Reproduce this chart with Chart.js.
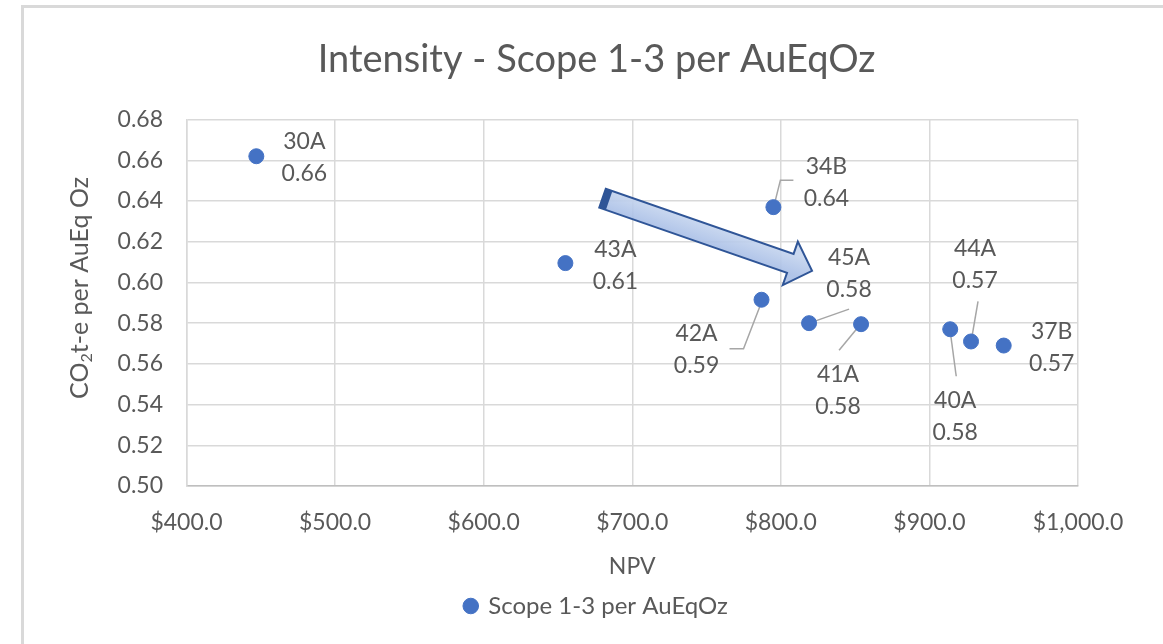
<!DOCTYPE html>
<html>
<head>
<meta charset="utf-8">
<script src="https://cdn.jsdelivr.net/npm/chart.js@4.4.1/dist/chart.umd.min.js"></script>
<style>
  html, body { margin: 0; padding: 0; background: #fff; }
  #wrap { position: relative; width: 1163px; height: 644px; overflow: hidden; }
  #frame { position: absolute; left: 21px; top: 5px; right: -5px; bottom: -5px;
           border-left: 3px solid #d9d9d9; border-top: 3px solid #d9d9d9; }
  #chart { position: absolute; left: 0; top: 0; }
</style>
</head>
<body>
<div id="wrap">
  <div id="frame"></div>
  <canvas id="chart" width="1163" height="644"></canvas>
</div>
<script>
// data
const projects  = ['30A', '43A', '34B', '42A', '45A', '41A', '40A', '44A', '37B'];
const npv       = [447, 655, 795, 787, 819, 854, 914, 928, 950];
const intensity = [0.662, 0.6095, 0.637, 0.5915, 0.580, 0.5795, 0.577, 0.571, 0.569];
const xTickValues = [400, 500, 600, 700, 800, 900, 1000];
const yTickValues = [0.50, 0.52, 0.54, 0.56, 0.58, 0.60, 0.62, 0.64, 0.66, 0.68];

// trend arrow, in data units (tail -> tip)
const trendArrow = { from: [680, 0.6414], to: [821, 0.6057] };

// label placement (px from the point) and leader lines
const labelOffsets = [[48, 1], [50, 2], [53, -25], [-65, 50], [40, -50], [-23, 66], [5, 87], [4, -77], [48, 2]];
const leaderLines = [
    null,
    null,
    [[1, -3], [7, -27], [20, -27]],
    [[-1, 5], [-18, 49], [-32, 49]],
    [[3, -1], [40, -14]],
    [[-3, 3], [-22, 26]],
    [[0, 2], [6, 47]],
    [[1, -5], [7, -40]],
    null
];

const textColor = '#595959';
const fontFamily = 'Lato, "Open Sans", sans-serif';

// leader lines under the points, labels on top
const dataLabels = {
    id: 'dataLabels',
    beforeDatasetsDraw(chart) {
        const ctx = chart.ctx;
        const pts = chart.getDatasetMeta(0).data;
        ctx.save();
        ctx.strokeStyle = '#a6a6a6';
        ctx.lineWidth = 1.5;
        pts.forEach((p, i) => {
            const line = leaderLines[i];
            if (!line) return;
            ctx.beginPath();
            line.forEach((d, j) => {
                if (j === 0) ctx.moveTo(p.x + d[0], p.y + d[1]);
                else ctx.lineTo(p.x + d[0], p.y + d[1]);
            });
            ctx.stroke();
        });
        ctx.restore();
    },
    afterDatasetsDraw(chart) {
        const ctx = chart.ctx;
        const pts = chart.getDatasetMeta(0).data;
        ctx.save();
        ctx.fillStyle = textColor;
        ctx.font = '23px ' + fontFamily;
        ctx.textAlign = 'center';
        ctx.textBaseline = 'middle';
        pts.forEach((p, i) => {
            const cx = p.x + labelOffsets[i][0];
            const cy = p.y + labelOffsets[i][1];
            ctx.fillText(projects[i], cx, cy - 16);
            ctx.fillText(intensity[i].toFixed(2), cx, cy + 16);
        });
        ctx.restore();
    }
};

const arrowPlugin = {
    id: 'trendArrow',
    afterDatasetsDraw(chart) {
        const xs = chart.scales.x, ys = chart.scales.y;
        const x1 = xs.getPixelForValue(trendArrow.from[0]), y1 = ys.getPixelForValue(trendArrow.from[1]);
        const x2 = xs.getPixelForValue(trendArrow.to[0]), y2 = ys.getPixelForValue(trendArrow.to[1]);
        const len = Math.hypot(x2 - x1, y2 - y1);
        const ux = (x2 - x1) / len, uy = (y2 - y1) / len;
        const nx = -uy, ny = ux;
        const sw = 10, hw = 23, hl = 23;
        const bx = x2 - ux * hl, by = y2 - uy * hl;
        const ctx = chart.ctx;
        ctx.save();
        const grad = ctx.createLinearGradient(x1 - nx * sw, y1 - ny * sw, x1 + nx * sw, y1 + ny * sw);
        grad.addColorStop(0, 'rgba(196, 212, 238, 0.9)');
        grad.addColorStop(1, 'rgba(168, 190, 230, 0.9)');
        ctx.beginPath();
        ctx.moveTo(x1 + nx * sw, y1 + ny * sw);
        ctx.lineTo(bx + nx * sw, by + ny * sw);
        ctx.lineTo(bx + nx * hw, by + ny * hw);
        ctx.lineTo(x2, y2);
        ctx.lineTo(bx - nx * hw, by - ny * hw);
        ctx.lineTo(bx - nx * sw, by - ny * sw);
        ctx.lineTo(x1 - nx * sw, y1 - ny * sw);
        ctx.closePath();
        ctx.fillStyle = grad;
        ctx.fill();
        ctx.strokeStyle = '#2f5597';
        ctx.lineWidth = 2;
        ctx.lineJoin = 'miter';
        ctx.stroke();
        // dark bevel at the tail
        ctx.beginPath();
        ctx.moveTo(x1 + nx * sw, y1 + ny * sw);
        ctx.lineTo(x1 + nx * sw + ux * 7, y1 + ny * sw + uy * 7);
        ctx.lineTo(x1 - nx * sw + ux * 7, y1 - ny * sw + uy * 7);
        ctx.lineTo(x1 - nx * sw, y1 - ny * sw);
        ctx.closePath();
        ctx.fillStyle = '#2f5597';
        ctx.fill();
        ctx.restore();
    }
};

// y title with subscript 2
const yTitle = {
    id: 'yTitle',
    afterDraw(chart) {
        const ctx = chart.ctx;
        const big = '25px ' + fontFamily, small = '16px ' + fontFamily;
        const parts = [['CO', big, 0], ['2', small, 7], ['t-e per AuEq Oz', big, 0]];
        ctx.save();
        let total = 0;
        parts.forEach(p => { ctx.font = p[1]; total += ctx.measureText(p[0]).width; });
        ctx.translate(80, 288);
        ctx.rotate(-Math.PI / 2);
        ctx.fillStyle = textColor;
        ctx.textBaseline = 'middle';
        ctx.textAlign = 'left';
        let x = -total / 2;
        parts.forEach(p => {
            ctx.font = p[1];
            ctx.fillText(p[0], x, p[2]);
            x += ctx.measureText(p[0]).width;
        });
        ctx.restore();
    }
};

const ctx = document.getElementById('chart').getContext('2d');
const chart = new Chart(ctx, {
    type: 'scatter',
    data: {
        datasets: [{
            label: 'Scope 1-3 per AuEqOz',
            data: projects.map((p, i) => ({ x: npv[i], y: intensity[i] })),
            backgroundColor: '#4472c4',
            borderColor: '#4472c4',
            pointRadius: 7.5,
            pointHoverRadius: 7.5
        }]
    },
    options: {
        responsive: false,
        animation: false,
        devicePixelRatio: 1,
        layout: { padding: { left: 30, right: 0, top: 0, bottom: 16 } },
        plugins: {
            title: {
                display: true,
                text: 'Intensity - Scope 1-3 per AuEqOz',
                color: textColor,
                font: { family: fontFamily, size: 38, weight: 'normal' },
                padding: { top: 37, bottom: 37 }
            },
            legend: {
                position: 'bottom',
                labels: {
                    usePointStyle: true,
                    pointStyle: 'circle',
                    boxWidth: 11,
                    boxHeight: 11,
                    padding: 10,
                    color: textColor,
                    font: { family: fontFamily, size: 24 }
                }
            },
            tooltip: { enabled: false }
        },
        scales: {
            x: {
                type: 'linear',
                min: 400,
                max: 1000,
                afterBuildTicks: s => { s.ticks = xTickValues.map(v => ({ value: v })); },
                afterFit: s => { s.height = 98; },
                ticks: {
                    padding: 23,
                    color: textColor,
                    font: { family: fontFamily, size: 23 },
                    callback: v => '$' + v.toLocaleString('en-US', { minimumFractionDigits: 1, maximumFractionDigits: 1 })
                },
                grid: { color: '#d9d9d9', lineWidth: 1.5, drawTicks: false },
                border: { color: '#bfbfbf', width: 1.5 },
                title: {
                    display: true,
                    text: 'NPV',
                    color: textColor,
                    font: { family: fontFamily, size: 23 },
                    padding: { top: 0, bottom: 4 }
                }
            },
            y: {
                min: 0.5,
                max: 0.68,
                afterBuildTicks: s => { s.ticks = yTickValues.map(v => ({ value: v })); },
                afterFit: s => { s.width = 156.5; },
                ticks: {
                    padding: 23.5,
                    color: textColor,
                    font: { family: fontFamily, size: 23 },
                    callback: v => v.toFixed(2)
                },
                grid: { color: '#d9d9d9', lineWidth: 1.5, drawTicks: false },
                border: { color: '#d9d9d9', width: 1.5 }
            },
            // empty right-hand strip so the title and legend centre like the original
            yRight: {
                position: 'right',
                afterFit: s => { s.width = 85; },
                grid: { display: false, drawTicks: false },
                border: { display: false },
                ticks: { display: false }
            }
        }
    },
    plugins: [dataLabels, arrowPlugin, yTitle]
});
</script>
</body>
</html>
